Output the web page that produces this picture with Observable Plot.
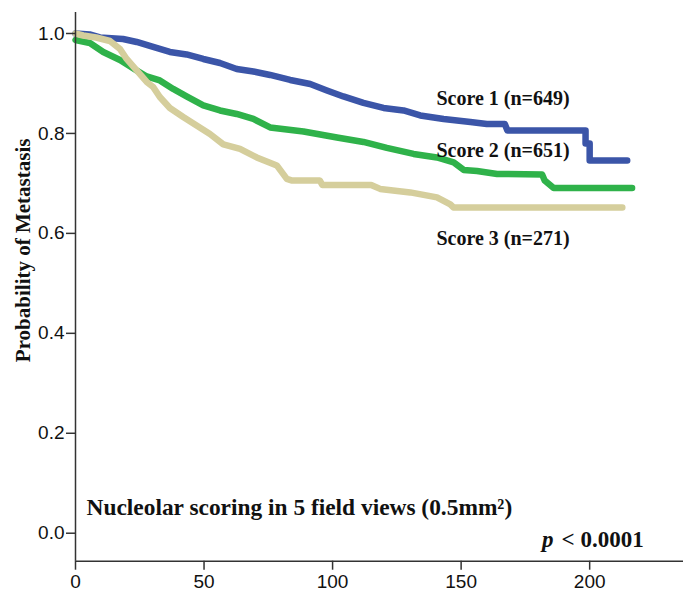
<!DOCTYPE html>
<html>
<head>
<meta charset="utf-8">
<script src="https://cdn.jsdelivr.net/npm/d3@7"></script>
<script src="https://cdn.jsdelivr.net/npm/@observablehq/plot@0.6"></script>
<style>
  html, body { margin: 0; padding: 0; background: #fff; }
  svg { display: block; }
</style>
</head>
<body>
<div id="chart"></div>
<script>
// Score 1 (n=649)
const score1Time = [0, 5.5, 9.5, 18.5, 23.8, 30.2, 36.7, 43.2, 49.7, 56.2, 62.7, 69.2, 75.7, 83.5, 91.3, 97.8, 104.2, 112, 119.8, 127.6, 134.1, 143.2, 153.6, 160, 167, 168, 198.4, 198.4, 200, 200, 214.6];
const score1Prob = [1.0, 0.998, 0.992, 0.989, 0.983, 0.973, 0.963, 0.958, 0.949, 0.941, 0.929, 0.924, 0.917, 0.907, 0.899, 0.886, 0.874, 0.861, 0.851, 0.846, 0.836, 0.829, 0.823, 0.819, 0.819, 0.806, 0.806, 0.780, 0.780, 0.746, 0.746];
// Score 2 (n=651)
const score2Time = [0, 5.6, 10.8, 17.3, 23.8, 27.7, 32.8, 38, 43.2, 49.7, 56.2, 62.7, 69.2, 75.7, 88.7, 101.7, 112, 121.1, 131.5, 140.6, 147.1, 151, 156.2, 164, 181.5, 182.5, 186, 216.5];
const score2Prob = [0.987, 0.981, 0.963, 0.947, 0.926, 0.914, 0.906, 0.889, 0.874, 0.856, 0.846, 0.839, 0.829, 0.812, 0.804, 0.792, 0.783, 0.771, 0.759, 0.752, 0.742, 0.727, 0.725, 0.719, 0.718, 0.706, 0.691, 0.691];
// Score 3 (n=271)
const score3Time = [0, 3, 8, 13.4, 17.3, 19.9, 23.8, 27.7, 30.2, 32.8, 36.7, 41.9, 47.1, 52.3, 57.5, 64, 70.5, 78.3, 82.2, 84, 95, 96, 115, 118.5, 130.2, 140.6, 145.8, 147, 212.7];
const score3Prob = [1.0, 0.996, 0.992, 0.985, 0.969, 0.949, 0.926, 0.903, 0.893, 0.873, 0.851, 0.833, 0.816, 0.799, 0.778, 0.769, 0.752, 0.736, 0.709, 0.706, 0.706, 0.697, 0.697, 0.689, 0.682, 0.672, 0.658, 0.652, 0.652];

const seriesNames = ["Score 1 (n=649)", "Score 2 (n=651)", "Score 3 (n=271)"];
const seriesColors = ["#3b55a8", "#2fb24a", "#d5ce9c"];
const xTicks = [0, 50, 100, 150, 200];
const yTicks = [0.0, 0.2, 0.4, 0.6, 0.8, 1.0];
const yLabel = "Probability of Metastasis";
const noteText = "Nucleolar scoring in 5 field views (0.5mm\u00B2)";
const pSymbol = "p";
const pValue = "< 0.0001";

const xDomain = [0, 236.5];
const yDomain = [-0.056, 1.042];

const times = [score1Time, score2Time, score3Time];
const probs = [score1Prob, score2Prob, score3Prob];
const curves = seriesNames.flatMap((name, i) =>
  times[i].map((t, j) => ({series: name, t, p: probs[i][j]})));

const serif = "'Liberation Serif', 'Times New Roman', serif";
const sans = "'Liberation Sans', Arial, sans-serif";

const chart = Plot.plot({
  width: 683,
  height: 594,
  marginLeft: 75,
  marginRight: 0,
  marginTop: 12,
  marginBottom: 33.3,
  style: {background: "#fff", color: "#222"},
  x: {domain: xDomain, ticks: xTicks},
  y: {domain: yDomain, ticks: yTicks},
  color: {domain: seriesNames, range: seriesColors},
  marks: [
    Plot.line(curves, {x: "t", y: "p", z: "series", stroke: "series", strokeWidth: 6.5, strokeLinecap: "round", strokeLinejoin: "round", curve: "linear"}),
    Plot.ruleX([xDomain[0]], {stroke: "#333", strokeWidth: 1.5}),
    Plot.ruleY([yDomain[0]], {stroke: "#333", strokeWidth: 1.5}),
    Plot.axisX({ticks: xTicks, tickSize: 9, tickPadding: 4, tickFormat: d3.format("d"), fontSize: 19, fontFamily: sans, fill: "#111", stroke: "#333", strokeWidth: 1.5, label: null}),
    Plot.axisY({ticks: yTicks, tickSize: 9, tickPadding: 2, tickFormat: d3.format(".1f"), fontSize: 19, fontFamily: sans, fill: "#111", stroke: "#333", strokeWidth: 1.5, label: null}),
    Plot.text([yLabel], {x: xDomain[0], y: 0.566, dx: -52, rotate: -90, fontSize: 21, fontWeight: "bold", fontFamily: serif, fill: "#111"}),
    Plot.text([seriesNames[0]], {x: 166.3, y: 0.869, fontSize: 20, fontWeight: "bold", fontFamily: serif, fill: "#111"}),
    Plot.text([seriesNames[1]], {x: 166.3, y: 0.766, fontSize: 20, fontWeight: "bold", fontFamily: serif, fill: "#111"}),
    Plot.text([seriesNames[2]], {x: 166.3, y: 0.589, fontSize: 20, fontWeight: "bold", fontFamily: serif, fill: "#111"}),
    Plot.text([noteText], {x: 4.3, y: 0.052, textAnchor: "start", fontSize: 23.4, fontWeight: "bold", fontFamily: serif, fill: "#111"}),
    Plot.text([pValue], {x: 221, y: -0.013, textAnchor: "end", fontSize: 23, fontWeight: "bold", fontFamily: serif, fill: "#111"}),
    Plot.text([pSymbol], {x: 185.9, y: -0.013, textAnchor: "end", fontSize: 23, fontWeight: "bold", fontStyle: "italic", fontFamily: serif, fill: "#111"})
  ]
});
document.getElementById("chart").appendChild(chart);
</script>
</body>
</html>
